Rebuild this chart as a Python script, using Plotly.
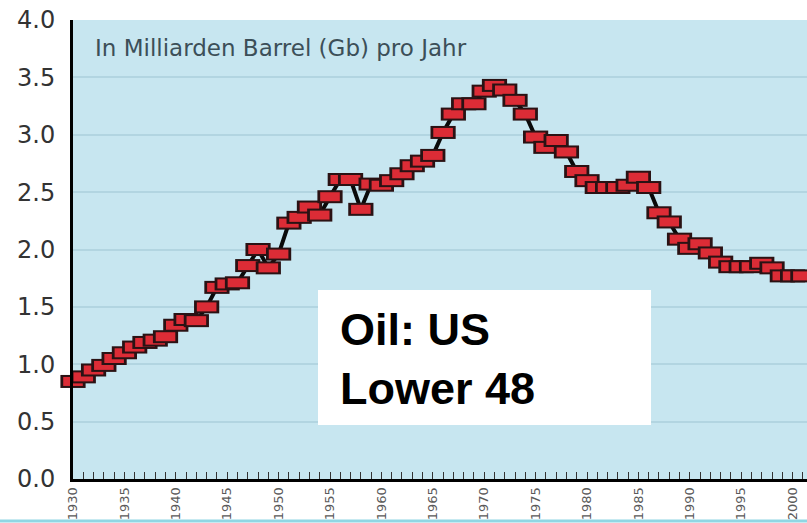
import plotly.graph_objects as go

years = list(range(1930, 2002))
production_gb = [
    0.85, 0.89, 0.95, 0.99, 1.05, 1.10, 1.15, 1.19, 1.21, 1.24,
    1.34, 1.39, 1.38, 1.50, 1.67, 1.70, 1.71, 1.86, 2.00, 1.84,
    1.96, 2.23, 2.28, 2.37, 2.30, 2.46, 2.61, 2.61, 2.35, 2.57,
    2.56, 2.60, 2.66, 2.73, 2.77, 2.82, 3.02, 3.18, 3.27, 3.27,
    3.38, 3.43, 3.39, 3.30, 3.18, 2.98, 2.89, 2.95, 2.85, 2.68,
    2.60, 2.54, 2.54, 2.54, 2.56, 2.63, 2.54, 2.32, 2.24, 2.09,
    2.01, 2.05, 1.97, 1.89, 1.85, 1.85, 1.85, 1.88, 1.84, 1.77,
    1.77, 1.77,
]
x_tick_years = list(range(1930, 2001, 5))
y_tick_values = [0.0, 0.5, 1.0, 1.5, 2.0, 2.5, 3.0, 3.5, 4.0]
unit_label = "In Milliarden Barrel (Gb) pro Jahr"
box_label = "Oil: US<br>Lower 48"

RED = "#dc2c36"
DARK = "#2a1214"

fig = go.Figure()
fig.add_trace(go.Scatter(
    x=years, y=production_gb, mode="lines",
    line=dict(color="#0a0a0a", width=4),
    cliponaxis=False, showlegend=False, hoverinfo="skip",
))
for yr, val in zip(years, production_gb):
    fig.add_trace(go.Scatter(
        x=[yr], y=[val], mode="markers", cliponaxis=False,
        marker=dict(symbol="line-ew", size=18, color=DARK,
                    line=dict(width=13, color=DARK)),
        showlegend=False, hoverinfo="skip",
    ))
    fig.add_trace(go.Scatter(
        x=[yr], y=[val], mode="markers", cliponaxis=False,
        marker=dict(symbol="line-ew", size=14, color=RED,
                    line=dict(width=9, color=RED)),
        showlegend=False, hoverinfo="skip",
    ))

fig.update_layout(
    width=807, height=523,
    margin=dict(l=73, r=0, t=20, b=44),
    paper_bgcolor="white",
    plot_bgcolor="#c7e6f0",
    font=dict(family="DejaVu Sans", color="#333333"),
    xaxis=dict(
        range=[1930, 2001.4],
        tickvals=x_tick_years,
        ticktext=[str(y) for y in x_tick_years],
        tickangle=-90,
        tickfont=dict(size=13, color="#5a5a5a", family="DejaVu Sans"),
        ticks="inside", ticklen=7, tickwidth=1, tickcolor="#333333",
        minor=dict(dtick=1, ticks="inside", ticklen=7, tickwidth=1, tickcolor="#333333"),
        showgrid=False, zeroline=False,
        showline=True, linewidth=3, linecolor="#000000",
    ),
    yaxis=dict(
        range=[0, 4],
        tickvals=y_tick_values,
        tickformat=".1f",
        tickfont=dict(size=24, color="#333333", family="DejaVu Sans"),
        ticks="", ticklabelstandoff=10,
        showgrid=True, gridcolor="#b2d5e1", gridwidth=2,
        zeroline=False,
        showline=True, linewidth=3, linecolor="#000000",
    ),
    shapes=[
        dict(type="rect", xref="paper", yref="paper",
             x0=0.3338, x1=0.7875, y0=0.1176, y1=0.4118,
             fillcolor="white", line=dict(width=0), layer="above"),
        dict(type="line", xref="paper", yref="paper",
             x0=-0.1, x1=1.0, y0=-0.0915, y1=-0.0915,
             line=dict(color="#8fd6e3", width=3), layer="above"),
    ],
    annotations=[
        dict(text=unit_label, xref="paper", yref="paper",
             x=0.0272, y=0.939, xanchor="left", yanchor="middle",
             showarrow=False,
             font=dict(size=23, color="#3c4f58", family="DejaVu Sans")),
        dict(text=box_label, xref="paper", yref="paper",
             x=0.361, y=0.2614, xanchor="left", yanchor="middle",
             align="left", showarrow=False,
             font=dict(size=45, color="#000000", family="Liberation Sans", weight="bold")),
    ],
)

fig.write_html(
    "out.html",
    config={"displayModeBar": False},
    post_script="document.body.style.margin='0';document.body.style.overflow='hidden';",
)
